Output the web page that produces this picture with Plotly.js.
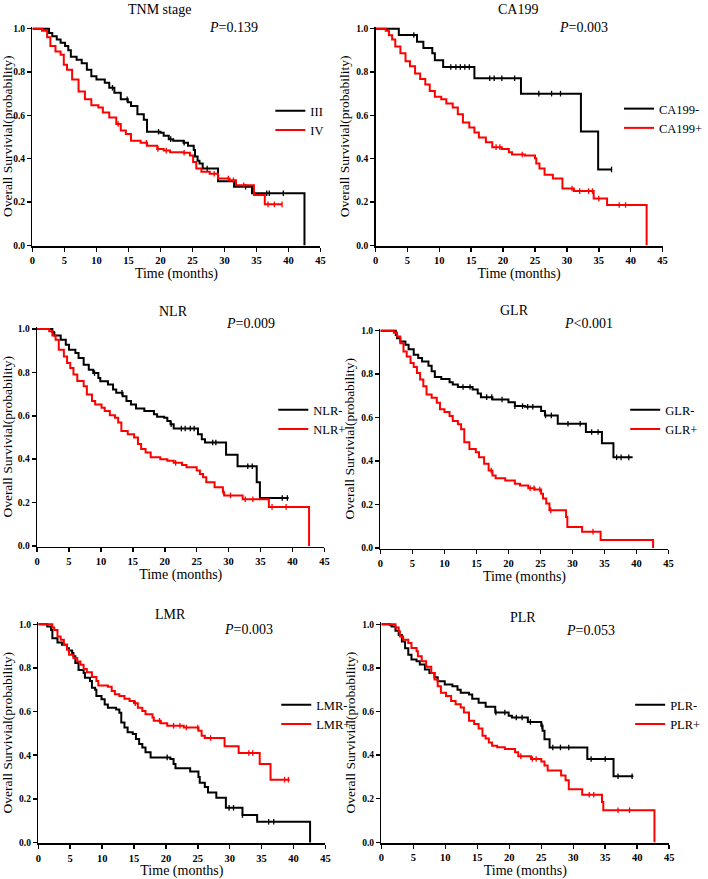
<!DOCTYPE html>
<html>
<head>
<meta charset="utf-8">
<script src="https://cdn.plot.ly/plotly-3.0.1.min.js"></script>
<style>html,body{margin:0;padding:0;background:#fff;}#chart{width:708px;height:879px;}</style>
</head>
<body>
<div id="chart"></div>
<script>
// ---------- DATA ----------
const panelTitles = ["TNM stage", "CA199", "NLR", "GLR", "LMR", "PLR"];
const pValues = ["=0.139", "=0.003", "=0.009", "<0.001", "=0.003", "=0.053"];
const groupNames = [["III", "IV"], ["CA199-", "CA199+"], ["NLR-", "NLR+"], ["GLR-", "GLR+"], ["LMR-", "LMR+"], ["PLR-", "PLR+"]];
const xTickVals = [0, 5, 10, 15, 20, 25, 30, 35, 40, 45];
const yTickVals = [0, 0.2, 0.4, 0.6, 0.8, 1.0];

// TNM stage
const tnm3T = [0,2.6,3.1,3.8,4.4,5.1,5.6,6.0,6.9,7.7,8.5,9.2,10.0,11.3,12.0,12.8,13.8,14.9,15.4,16.4,17.4,17.9,20.0,20.5,21.3,22.0,23.6,24.3,25.2,25.4,25.8,26.1,26.6,29.0,31.5,34.3,42.5];
const tnm3S = [1,0.98,0.965,0.95,0.935,0.92,0.90,0.87,0.857,0.84,0.81,0.78,0.765,0.75,0.727,0.704,0.674,0.66,0.643,0.605,0.58,0.524,0.52,0.506,0.49,0.483,0.473,0.46,0.44,0.41,0.39,0.377,0.354,0.296,0.27,0.24,0];
const tnm3C = [12.5,14.8,19.7,21.6,23.7,27.3,33.3,36.6,37.0,39.2];
const tnm4T = [0,1.5,2.3,2.8,3.6,4.4,4.9,5.4,6.2,7.2,8.2,9.2,10.3,11.0,12.0,13.1,13.8,14.6,15.4,16.9,17.9,19.5,20.5,21.5,23.6,24.6,25.1,25.6,26.4,27.7,29.0,30.8,31.8,34.6,36.3,39.0];
const tnm4S = [1,0.99,0.96,0.92,0.895,0.88,0.834,0.81,0.765,0.71,0.674,0.646,0.636,0.613,0.59,0.56,0.53,0.514,0.483,0.473,0.46,0.445,0.437,0.43,0.427,0.415,0.384,0.354,0.34,0.33,0.308,0.30,0.277,0.232,0.189,0.189];
const tnm4C = [13.4,17.8,19.6,20.9,23.7,28.4,30.6,31.4,33.0,36.8,37.8,39.0];

// CA199
const caNegT = [0,3.65,6.5,7.5,8.9,9.3,10.6,15.5,22.8,32.2,34.9,37.0];
const caNegS = [1,0.971,0.94,0.911,0.887,0.854,0.823,0.771,0.70,0.525,0.35,0.35];
const caNegC = [6.0,11.8,12.6,13.3,14.0,14.7,17.9,18.6,19.8,21.8,25.6,27.6,29.0,37.0];
const caPosT = [0,1.6,2.1,2.6,3.1,3.9,4.7,5.4,6.2,7.0,7.8,8.5,9.3,10.3,11.1,12.1,12.9,13.7,14.7,15.5,16.2,17.3,18.3,19.8,20.9,21.4,23.4,25.0,25.2,25.7,26.5,27.8,29.3,31.1,34.2,36.3,42.5];
const caPosS = [1,0.99,0.97,0.95,0.918,0.887,0.85,0.826,0.793,0.768,0.742,0.712,0.686,0.674,0.655,0.636,0.605,0.567,0.544,0.521,0.498,0.476,0.453,0.445,0.43,0.419,0.415,0.402,0.377,0.354,0.326,0.308,0.262,0.25,0.216,0.186,0];
const caPosC = [18.9,19.5,23.0,30.8,32.0,33.4,34.0,35.0,38.2,39.2];

// NLR
const nlrNegT = [0,2.4,2.7,3.7,4.5,5.0,6.0,6.5,7.3,8.1,8.8,9.6,9.9,11.1,11.9,12.4,13.4,14.0,14.7,15.5,16.8,18.3,18.8,19.9,20.4,20.9,21.4,25.2,25.8,26.3,29.6,31.4,34.4,34.9,39.4];
const nlrNegS = [1,0.985,0.97,0.95,0.927,0.904,0.889,0.866,0.835,0.812,0.797,0.774,0.759,0.744,0.721,0.706,0.69,0.668,0.652,0.633,0.622,0.607,0.596,0.591,0.576,0.561,0.541,0.515,0.492,0.477,0.42,0.367,0.294,0.221,0.221];
const nlrNegC = [9.0,13.3,21.0,22.6,23.2,24.0,24.6,27.5,28.0,33.0,33.7,38.4,39.2];
const nlrPosT = [0,1.9,2.4,2.9,3.4,4.2,4.7,5.2,5.7,6.3,7.3,7.8,8.6,9.1,10.1,10.6,11.4,12.2,12.7,13.2,14.2,15.2,15.8,16.3,17.0,17.8,19.3,20.4,21.4,22.7,23.4,25.0,25.5,26.0,26.5,27.8,29.1,29.3,32.2,36.3,42.6];
const nlrPosS = [1,0.99,0.97,0.95,0.904,0.873,0.843,0.82,0.79,0.76,0.736,0.698,0.668,0.652,0.637,0.622,0.602,0.591,0.569,0.53,0.515,0.50,0.47,0.447,0.431,0.409,0.40,0.393,0.383,0.373,0.363,0.348,0.332,0.317,0.294,0.271,0.248,0.233,0.215,0.18,0];
const nlrPosC = [21.7,29.2,30.3,32.6,33.8,36.8,39.0];

// GLR
const glrNegT = [0,2.4,2.6,3.1,3.9,4.4,5.2,5.9,6.5,7.5,8.0,8.5,9.5,10.8,11.3,12.1,14.4,15.2,15.7,17.5,20.0,21.0,22.6,25.1,25.7,27.7,32.1,34.6,36.4,39.4];
const glrNegS = [1,0.98,0.965,0.95,0.935,0.915,0.889,0.874,0.858,0.839,0.813,0.787,0.778,0.763,0.752,0.741,0.729,0.711,0.694,0.683,0.671,0.653,0.65,0.63,0.61,0.572,0.534,0.482,0.417,0.417];
const glrNegC = [12.9,14.0,16.6,17.4,19.0,21.0,22.2,23.0,23.8,25.8,26.7,29.3,31.2,33.0,34.0,36.9,37.6,38.8];
const glrPosT = [0,2.1,2.6,3.1,3.6,4.1,4.7,5.2,5.7,6.2,6.7,7.2,8.0,8.8,9.3,10.0,10.8,11.3,12.1,12.6,13.1,13.9,14.9,15.4,16.2,16.9,17.5,18.0,19.5,21.0,21.8,23.1,24.1,25.1,25.4,25.9,26.4,29.0,29.2,31.5,34.4,42.6];
const glrPosS = [1,0.99,0.973,0.942,0.904,0.881,0.851,0.833,0.805,0.775,0.744,0.706,0.691,0.668,0.638,0.626,0.607,0.584,0.569,0.546,0.486,0.455,0.44,0.417,0.387,0.356,0.333,0.321,0.31,0.295,0.288,0.275,0.269,0.25,0.228,0.205,0.174,0.143,0.097,0.075,0.037,0];
const glrPosC = [17.3,23.4,24.0,24.9,26.6,33.2];

// LMR
const lmrNegT = [0,1.4,2.0,2.2,3.0,3.7,4.5,4.8,5.3,5.5,5.8,6.3,7.1,7.3,8.1,8.4,8.9,9.1,9.9,10.4,10.9,12.2,12.7,13.0,13.5,14.0,14.8,15.3,15.8,16.3,16.8,17.6,20.7,21.2,21.5,23.8,25.1,25.3,26.1,26.6,27.9,29.4,32.0,34.3,42.6];
const lmrNegS = [1,0.99,0.974,0.936,0.917,0.906,0.89,0.88,0.868,0.853,0.823,0.79,0.777,0.755,0.74,0.709,0.70,0.671,0.656,0.633,0.618,0.61,0.595,0.55,0.527,0.505,0.497,0.474,0.452,0.436,0.414,0.39,0.383,0.36,0.34,0.326,0.30,0.274,0.255,0.229,0.205,0.159,0.126,0.095,0];
const lmrNegC = [20.2,29.9,30.6,32.0,36.1,36.9];
const lmrPosT = [0,2.2,2.5,3.0,3.5,4.0,4.5,4.8,5.5,6.1,6.6,7.1,7.6,8.4,9.1,9.4,10.9,11.5,12.0,12.7,13.5,14.3,15.0,15.6,16.3,16.8,17.9,18.1,19.2,20.2,22.8,25.1,25.6,26.1,29.2,31.4,34.7,36.4,39.4];
const lmrPosS = [1,0.985,0.974,0.944,0.929,0.906,0.883,0.86,0.845,0.83,0.815,0.795,0.78,0.759,0.74,0.72,0.714,0.694,0.679,0.671,0.659,0.648,0.638,0.618,0.603,0.588,0.573,0.558,0.547,0.535,0.527,0.512,0.489,0.479,0.441,0.41,0.36,0.288,0.288];
const lmrPosC = [15.2,19.0,21.2,22.2,23.2,25.0,27.0,33.0,33.6,38.6,39.2];

// PLR
const plrNegT = [0,1.4,1.6,2.2,2.7,3.2,3.7,4.2,4.7,5.5,6.0,6.8,7.5,8.3,8.8,9.9,11.1,11.9,12.4,13.7,14.2,15.2,16.3,17.8,19.9,20.4,22.9,25.0,25.2,25.5,26.3,32.2,36.3,39.4];
const plrNegS = [1,0.995,0.99,0.97,0.951,0.921,0.89,0.86,0.838,0.83,0.815,0.792,0.777,0.757,0.739,0.724,0.716,0.70,0.686,0.678,0.658,0.64,0.622,0.595,0.58,0.572,0.552,0.534,0.511,0.473,0.435,0.382,0.303,0.303];
const plrNegC = [17.9,19.3,21.1,22.0,23.3,25.1,26.8,28.0,29.3,32.8,35.0,37.0,39.2];
const plrPosT = [0,2.2,2.7,2.9,3.4,4.2,4.7,5.5,5.7,6.3,7.0,7.8,8.3,8.8,9.3,10.1,10.9,11.6,12.4,12.9,13.7,14.5,15.2,15.8,16.3,16.8,17.3,18.1,19.3,20.9,21.4,23.4,25.0,25.5,26.0,28.1,28.8,29.3,31.4,34.5,34.7,42.7];
const plrPosS = [1,0.985,0.967,0.944,0.929,0.914,0.891,0.876,0.853,0.83,0.805,0.777,0.747,0.716,0.686,0.671,0.648,0.633,0.618,0.595,0.557,0.542,0.522,0.489,0.476,0.458,0.443,0.436,0.428,0.413,0.395,0.382,0.37,0.352,0.329,0.306,0.284,0.243,0.218,0.185,0.147,0];
const plrPosC = [21.8,23.6,24.2,32.5,33.2,37.0,38.8];

const curves = [
  [[tnm3T, tnm3S, tnm3C], [tnm4T, tnm4S, tnm4C]],
  [[caNegT, caNegS, caNegC], [caPosT, caPosS, caPosC]],
  [[nlrNegT, nlrNegS, nlrNegC], [nlrPosT, nlrPosS, nlrPosC]],
  [[glrNegT, glrNegS, glrNegC], [glrPosT, glrPosS, glrPosC]],
  [[lmrNegT, lmrNegS, lmrNegC], [lmrPosT, lmrPosS, lmrPosC]],
  [[plrNegT, plrNegS, plrNegC], [plrPosT, plrPosS, plrPosC]]
];
const groupColors = ["#000000", "#ff0000"];

// ---------- LAYOUT GEOMETRY (pixels) ----------
const W = 708, H = 879;
// plot boxes: [x0, x1, y(1.0), y(0.0)]
const boxes = [
  [33, 326, 28.7, 247],
  [382, 674, 28.7, 247],
  [37.7, 330, 329, 547.7],
  [387, 680, 330.7, 549.7],
  [39, 331, 624.3, 844.3],
  [388, 680.7, 624.3, 844]
];
const titlePos = [[162, 9], [527, 10], [176, 311], [523, 310], [173, 614], [532, 617]];
const pPos = [[238, 27], [594, 27], [255, 323], [599, 323], [253, 629], [601, 630]];
const legendPos = [[275, 96], [630, 94], [278, 395], [636, 395], [281, 690], [641, 690]];

const FONT = "Liberation Serif, Times New Roman, serif";
const yLo = -0.004, yHi = 1.01;

function stepAt(t, s, x) {
  let v = s[0];
  for (let i = 0; i < t.length; i++) { if (t[i] <= x) v = s[i]; }
  return v;
}

const traces = [];
const layout = {
  width: W, height: H,
  margin: {l: 0, r: 0, t: 0, b: 0},
  paper_bgcolor: "#fff", plot_bgcolor: "#fff",
  font: {family: FONT, color: "#000"},
  showlegend: true,
  annotations: []
};

boxes.forEach((b, i) => {
  const k = i + 1;
  const xa = "x" + (k === 1 ? "" : k), ya = "y" + (k === 1 ? "" : k);
  const xName = "xaxis" + (k === 1 ? "" : k), yName = "yaxis" + (k === 1 ? "" : k);
  const legName = "legend" + (k === 1 ? "" : k);
  const hPx = b[3] - b[2];
  const topPx = b[2] - (yHi - 1) * hPx;
  const botPx = b[3] - (0 - yLo) * hPx;
  layout[xName] = {
    domain: [b[0] / W, b[1] / W], range: [0, 45], anchor: ya,
    showline: true, linecolor: "#000", linewidth: 1.5, mirror: false,
    ticks: "outside", ticklen: 4, tickwidth: 1.5, tickcolor: "#000",
    tickvals: xTickVals, showgrid: false, zeroline: false,
    tickfont: {family: FONT, size: 10.5, weight: "bold", color: "#000"},
    title: {text: "Time (months)", font: {family: FONT, size: 14, weight: "normal", color: "#000"}, standoff: 3}
  };
  layout[yName] = {
    domain: [1 - botPx / H, 1 - topPx / H], range: [yLo, yHi], anchor: xa,
    showline: true, linecolor: "#000", linewidth: 1.5, mirror: false,
    ticks: "outside", ticklen: 4, tickwidth: 1.5, tickcolor: "#000",
    tickvals: yTickVals, tickformat: ".1f", showgrid: false, zeroline: false,
    tickfont: {family: FONT, size: 9.5, weight: "bold", color: "#000"},
    title: {text: "Overall Survivial(probability)", font: {family: FONT, size: 13.5, weight: "normal", color: "#000"}, standoff: 3}
  };
  layout[legName] = {
    x: legendPos[i][0] / W, y: 1 - legendPos[i][1] / H, xanchor: "left", yanchor: "top",
    bgcolor: "rgba(0,0,0,0)", borderwidth: 0, itemwidth: 30,
    font: {family: FONT, size: 12.5, color: "#000"}, tracegroupgap: 0
  };
  curves[i].forEach((c, g) => {
    const [t, s, cens] = c;
    traces.push({
      type: "scatter", mode: "lines", x: t, y: s, xaxis: xa, yaxis: ya,
      line: {shape: "hv", color: groupColors[g], width: 2},
      name: groupNames[i][g], legend: legName, legendgroup: "p" + k + "g" + g,
      hoverinfo: "skip"
    });
    traces.push({
      type: "scatter", mode: "markers", x: cens, y: cens.map(x => stepAt(t, s, x)),
      xaxis: xa, yaxis: ya, showlegend: false, legend: legName, legendgroup: "p" + k + "g" + g,
      marker: {symbol: "line-ns", size: 4, line: {color: groupColors[g], width: 1.3}},
      cliponaxis: false, hoverinfo: "skip"
    });
  });
  layout.annotations.push({
    xref: "paper", yref: "paper", x: titlePos[i][0] / W, y: 1 - titlePos[i][1] / H,
    xanchor: "center", yanchor: "middle", showarrow: false, text: panelTitles[i],
    font: {family: FONT, size: 14, color: "#000"}
  });
  layout.annotations.push({
    xref: "paper", yref: "paper", x: pPos[i][0] / W, y: 1 - pPos[i][1] / H,
    xanchor: "center", yanchor: "middle", showarrow: false, text: "<i>P</i>" + pValues[i],
    font: {family: FONT, size: 14, color: "#000"}
  });
});

Plotly.newPlot("chart", traces, layout, {displayModeBar: false, staticPlot: true});
</script>
</body>
</html>
